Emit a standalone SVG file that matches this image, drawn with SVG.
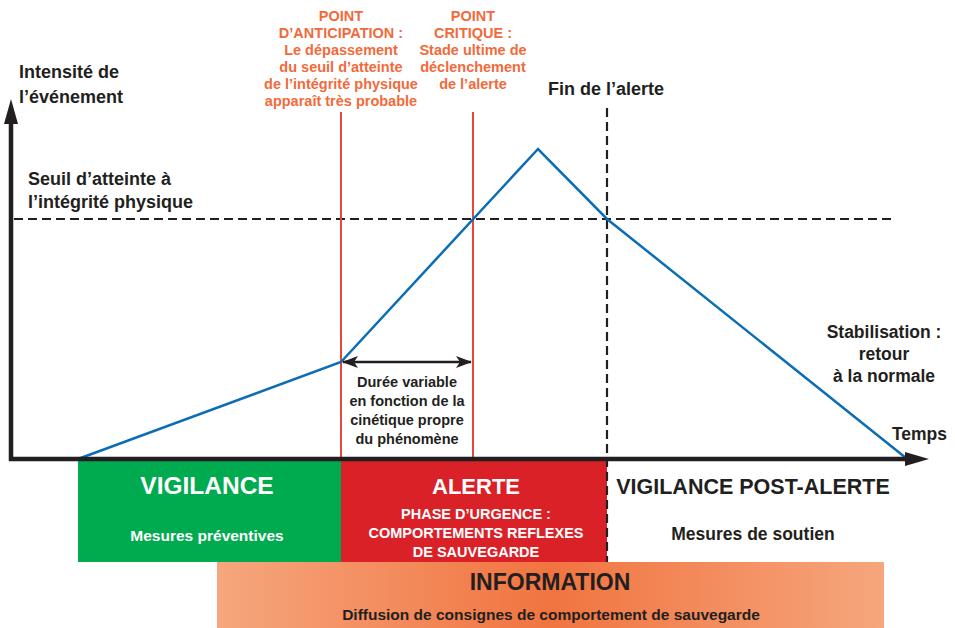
<svg xmlns="http://www.w3.org/2000/svg" width="955" height="628" viewBox="0 0 955 628">
<style>
text{font-family:"Liberation Sans",Arial,sans-serif;font-weight:bold}
.dk{fill:#231f20}
.or{fill:#f26a3b;font-size:14.5px}
.wh{fill:#ffffff}
.dash{stroke:#231f20;stroke-width:2.2;stroke-dasharray:9,5;fill:none}
.red{stroke:#e8463a;stroke-width:2;fill:none}
.axis{stroke:#231f20;stroke-width:4.5;fill:none}
.curve{stroke:#0a6db5;stroke-width:2.5;fill:none;stroke-linejoin:miter}
</style>
<defs>
<linearGradient id="infoGrad" x1="0" y1="0" x2="1" y2="0">
<stop offset="0" stop-color="#f6a67d"/>
<stop offset="0.5" stop-color="#f17440"/>
<stop offset="1" stop-color="#f6a67d"/>
</linearGradient>
<marker id="ah" markerWidth="16" markerHeight="12" refX="15" refY="6" orient="auto-start-reverse" markerUnits="userSpaceOnUse">
<path d="M0,0 L16,6 L0,12 L4,6 Z" fill="#231f20"/>
</marker>
</defs>
<rect width="955" height="628" fill="#ffffff"/>

<g id="band-vigilance">
<rect x="78" y="461" width="263" height="101" fill="#00aa4f"/>
<text x="207" y="494" text-anchor="middle" class="wh" font-size="24.5">VIGILANCE</text>
<text x="207" y="541" text-anchor="middle" class="wh" font-size="15.5">Mesures préventives</text>
</g>
<g id="band-alerte">
<rect x="341" y="461" width="266" height="101" fill="#da2128"/>
<text x="476" y="494" text-anchor="middle" class="wh" font-size="22">ALERTE</text>
<text x="476" y="519" text-anchor="middle" class="wh" font-size="14.5">PHASE D’URGENCE :</text>
<text x="476" y="538" text-anchor="middle" class="wh" font-size="14.5">COMPORTEMENTS REFLEXES</text>
<text x="476" y="557" text-anchor="middle" class="wh" font-size="14.5">DE SAUVEGARDE</text>
</g>
<g id="band-post-alerte">
<text x="753" y="494" text-anchor="middle" class="dk" font-size="21.5">VIGILANCE POST-ALERTE</text>
<text x="753" y="540" text-anchor="middle" class="dk" font-size="17.5">Mesures de soutien</text>
</g>
<g id="band-information">
<rect x="217" y="562" width="667" height="66" fill="url(#infoGrad)"/>
<text x="550" y="590" text-anchor="middle" class="dk" font-size="23">INFORMATION</text>
<text x="551" y="620" text-anchor="middle" class="dk" font-size="15.5">Diffusion de consignes de comportement de sauvegarde</text>
</g>

<g id="connectors">
<line class="dash" x1="14" y1="219" x2="892" y2="219"/>
<line class="dash" x1="607" y1="108" x2="607" y2="562"/>
<line class="red" x1="341" y1="112" x2="341" y2="459"/>
<line class="red" x1="473" y1="112" x2="473" y2="459"/>
<polyline class="curve" points="78,459 341,362 538,149 607,219 906,458"/>
<line x1="343" y1="362" x2="471" y2="362" stroke="#231f20" stroke-width="2.5" marker-start="url(#ah)" marker-end="url(#ah)"/>
<polyline class="axis" points="11,120 11,459 910,459"/>
<path d="M11,99 L18,124 L4,124 Z" fill="#231f20"/>
<path d="M929,459 L905,452 L905,466 Z" fill="#231f20"/>
</g>

<g id="label-axis-y">
<text x="19" y="78" class="dk" font-size="18">Intensité de</text>
<text x="19" y="103" class="dk" font-size="18">l’événement</text>
</g>
<g id="label-seuil">
<text x="28" y="185" class="dk" font-size="18">Seuil d’atteinte à</text>
<text x="28" y="208" class="dk" font-size="18">l’intégrité physique</text>
</g>
<g id="label-anticipation">
<text x="341" y="21" text-anchor="middle" class="or">POINT</text>
<text x="341" y="38" text-anchor="middle" class="or">D’ANTICIPATION :</text>
<text x="341" y="55" text-anchor="middle" class="or">Le dépassement</text>
<text x="341" y="72" text-anchor="middle" class="or">du seuil d’atteinte</text>
<text x="341" y="89" text-anchor="middle" class="or">de l’intégrité physique</text>
<text x="341" y="106" text-anchor="middle" class="or">apparaît très probable</text>
</g>
<g id="label-critique">
<text x="473" y="21" text-anchor="middle" class="or">POINT</text>
<text x="473" y="38" text-anchor="middle" class="or">CRITIQUE :</text>
<text x="473" y="55" text-anchor="middle" class="or">Stade ultime de</text>
<text x="473" y="72" text-anchor="middle" class="or">déclenchement</text>
<text x="473" y="89" text-anchor="middle" class="or">de l’alerte</text>
</g>
<g id="label-fin">
<text x="606" y="95" text-anchor="middle" class="dk" font-size="18">Fin de l’alerte</text>
</g>
<g id="label-duree">
<text x="407" y="387" text-anchor="middle" class="dk" font-size="14.5">Durée variable</text>
<text x="407" y="406" text-anchor="middle" class="dk" font-size="14.5">en fonction de la</text>
<text x="407" y="425" text-anchor="middle" class="dk" font-size="14.5">cinétique propre</text>
<text x="407" y="444" text-anchor="middle" class="dk" font-size="14.5">du phénomène</text>
</g>
<g id="label-stabilisation">
<text x="884" y="338" text-anchor="middle" class="dk" font-size="17.5">Stabilisation :</text>
<text x="884" y="360" text-anchor="middle" class="dk" font-size="17.5">retour</text>
<text x="884" y="382" text-anchor="middle" class="dk" font-size="17.5">à la normale</text>
</g>
<g id="label-temps">
<text x="947" y="440" text-anchor="end" class="dk" font-size="17.5">Temps</text>
</g>
</svg>
